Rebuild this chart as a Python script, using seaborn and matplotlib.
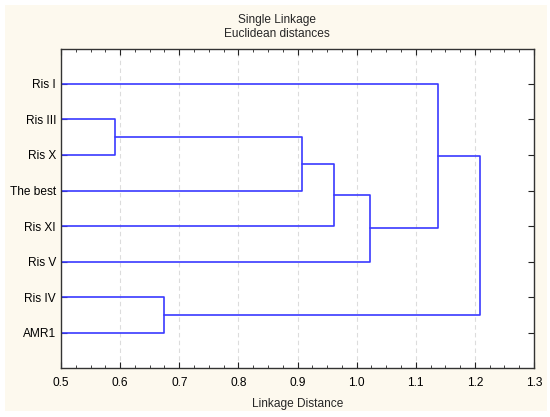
import numpy as np
import pandas as pd
import matplotlib
matplotlib.use("Agg")
import matplotlib.pyplot as plt
from matplotlib.patches import Rectangle
from matplotlib.ticker import MultipleLocator
import seaborn as sns

# Leaves in the order shown, top to bottom
leaves = ["Ris I", "Ris III", "Ris X", "The best", "Ris XI", "Ris V", "Ris IV", "AMR1"]

# Single linkage merges: (left cluster, right cluster, distance)
# clusters 0-7 are leaves, new clusters get ids 8, 9, ...
merge_left = [1, 8, 9, 10, 0, 6, 12]
merge_right = [2, 3, 4, 5, 11, 7, 13]
merge_dist = [0.591, 0.907, 0.962, 1.022, 1.138, 0.675, 1.208]

x_ticks = [0.5, 0.6, 0.7, 0.8, 0.9, 1.0, 1.1, 1.2, 1.3]

# build the U-shaped links
pos = {i: float(i) for i in range(len(leaves))}
height = {i: 0.0 for i in range(len(leaves))}
rows = []
for k, (a, b, d) in enumerate(zip(merge_left, merge_right, merge_dist)):
    node = len(leaves) + k
    pts = [(height[a], pos[a]), (d, pos[a]), (d, pos[b]), (height[b], pos[b])]
    for j, (px, py) in enumerate(pts):
        rows.append({"x": px, "y": py, "link": k, "order": j})
    pos[node] = (pos[a] + pos[b]) / 2
    height[node] = d
links = pd.DataFrame(rows)

sns.set_style("white")
plt.rcParams["font.family"] = ["Liberation Sans", "DejaVu Sans"]
plt.rcParams["font.size"] = 8.6

W, H = 550, 417
fig = plt.figure(figsize=(5.5, 4.17), dpi=100, facecolor="white")
fig.patches.append(Rectangle((5 / W, 6 / H), 542 / W, 406 / H,
                             transform=fig.transFigure, facecolor="#fdf9ee",
                             edgecolor="none", zorder=-1))
ax = fig.add_axes([61 / W, (H - 367.5) / H, 473 / W, 318 / H])
ax.set_facecolor("white")

# grid
for t in x_ticks[1:-1]:
    ax.axvline(t, color="#dcdcdc", lw=0.8, ls=(0, (4, 3)), zorder=0)

sns.lineplot(data=links, x="x", y="y", units="link", estimator=None, sort=False,
             color="#3a3aff", lw=1.2, ax=ax, legend=False)

ax.set_xlim(0.5, 1.3)
ax.set_ylim(len(leaves) - 1 + 0.97, -0.96)
ax.set_xticks(x_ticks)
ax.set_xticklabels([f"{t:.1f}" for t in x_ticks])
ax.xaxis.set_minor_locator(MultipleLocator(0.025))
ax.set_yticks(range(len(leaves)))
ax.set_yticklabels(leaves)

ax.tick_params(axis="x", which="both", direction="in", top=True, bottom=True,
               colors="#222222", labelcolor="black", pad=7)
ax.tick_params(axis="x", which="major", length=4, width=0.8)
ax.tick_params(axis="x", which="minor", length=2, width=0.6)
ax.tick_params(axis="y", direction="in", left=True, right=True, length=4,
               width=0.8, colors="#222222", labelcolor="black", pad=3.6)
for s in ax.spines.values():
    s.set_color("#333333")
    s.set_linewidth(1.0)

ax.set_xlabel("Linkage Distance", labelpad=6)
ax.set_ylabel("")
fig.text(277 / W, 1 - 27.2 / H, "Single Linkage\nEuclidean distances",
         ha="center", va="center", fontsize=8.6, linespacing=1.25)

fig.savefig("out.png", dpi=100, facecolor=fig.get_facecolor())
